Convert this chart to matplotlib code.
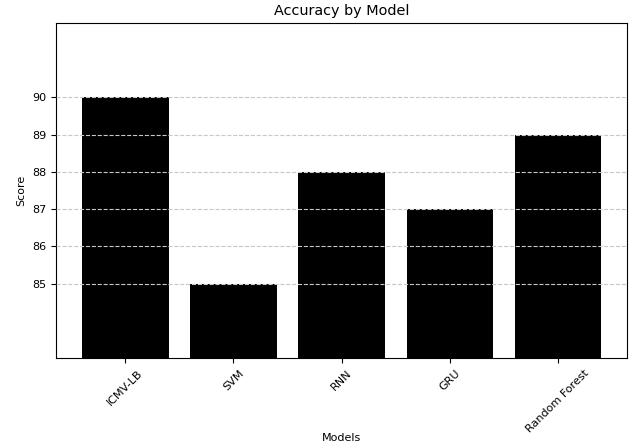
import matplotlib
matplotlib.use('Agg')
import matplotlib.pyplot as plt

models = ['ICMV-LB', 'SVM', 'RNN', 'GRU', 'Random Forest']
scores = [90, 85, 88, 87, 89]

fig, ax = plt.subplots(figsize=(6.4, 4.47), dpi=100)
fig.subplots_adjust(left=0.0875, right=0.98, top=0.9485, bottom=0.199)

ax.bar(models, scores, color='black')
ax.set_ylim(83, 92)
ax.set_yticks([85, 86, 87, 88, 89, 90])
ax.set_title('Accuracy by Model', fontsize=10.4)
ax.set_xlabel('Models', fontsize=8, labelpad=-1)
ax.set_ylabel('Score', fontsize=8)
ax.tick_params(labelsize=8)
plt.xticks(rotation=45)
ax.grid(axis='y', linestyle='--', color='#c8c8c8', linewidth=0.8, zorder=3)
ax.set_axisbelow(False)

fig.savefig('out.png', dpi=100)
